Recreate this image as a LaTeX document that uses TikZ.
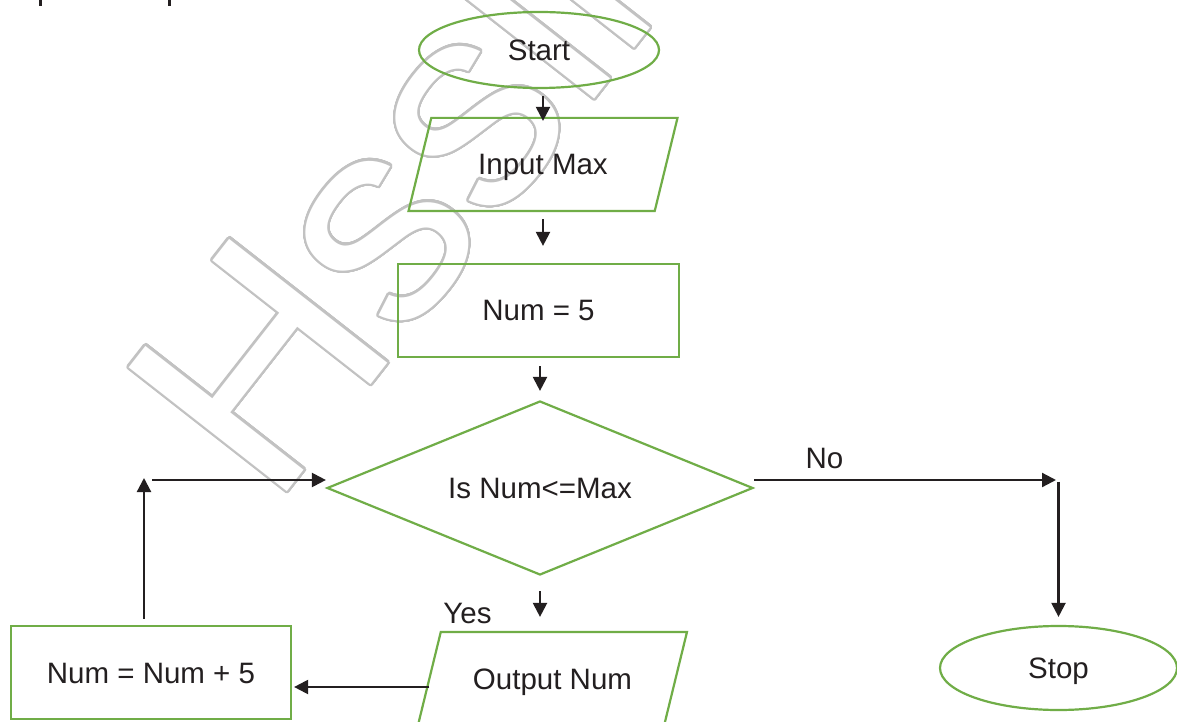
\documentclass[tikz,border=0pt]{standalone}
\usepackage{fontspec}
\setmainfont{Liberation Sans}
\usepackage{contour}
\usetikzlibrary{shapes.geometric, arrows.meta}
\definecolor{flowgreen}{HTML}{70AD47}
\definecolor{ink}{HTML}{231F20}
\definecolor{wmgray}{HTML}{C2C2C2}
\contourlength{2.2pt}
\contournumber{48}
% slanted input/output frame drawn around a rectangular node
\newcommand\ioframe[1]{%
  \draw[frameline] ([xshift=11.4pt]#1.north west) -- ([xshift=11.4pt]#1.north east)
    -- ([xshift=-11.4pt]#1.south east) -- ([xshift=-11.4pt]#1.south west) -- cycle;}
\begin{document}
\begin{tikzpicture}[x=1pt, y=1pt,
  frameline/.style={draw=flowgreen, line width=2.2pt},
  flow/.style={frameline, text=ink, inner sep=0pt,
    font=\fontsize{29.5}{34}\selectfont, text height=21pt, text depth=0pt},
  term/.style={flow, ellipse},
  proc/.style={flow, rectangle},
  io/.style={flow, draw=none, rectangle, minimum width=244pt, minimum height=91pt},
  decision/.style={flow, diamond, shape aspect=2.448},
  arr/.style={draw=ink, line width=2.2pt, -{Triangle[length=14pt, width=14pt]}},
  lbl/.style={text=ink, inner sep=0pt, font=\fontsize{29.5}{34}\selectfont,
    text height=21pt, text depth=0pt},
  wm/.style={text=white, inner sep=0pt, outer sep=0pt,
    font=\fontsize{292}{300}\selectfont}]

\useasboundingbox (0,0) rectangle (1177,721);
\fill[white] (0,0) rectangle (1177,721);

% faint outlined site mark behind the chart
\begin{scope}
  \clip (0,0) rectangle (1177,721);
  \node[wm, anchor=base west, rotate=51.95] (mark) at (272.8,210.9) {\contour{wmgray}{Hsslive}};
\end{scope}

% descenders of the line of text above the chart
\draw[ink, line width=3pt] (40,715) -- (40,722);
\draw[ink, line width=3pt] (169,715) -- (169,722);

% chart boxes
\node[term, minimum width=240pt, minimum height=76pt] (start) at (539,671) {Start};
\node[io] (inp) at (543,556.5) {Input Max};
\node[proc, minimum width=281pt, minimum height=93pt] (n5) at (538.5,410.5) {Num = 5};
\node[decision, minimum width=426pt, minimum height=174pt] (dec) at (540,233) {Is Num<=Max};
\node[io] (out) at (552.5,42.5) {Output Num};
\node[proc, minimum width=280pt, minimum height=93pt] (inc) at (151,48.5) {Num = Num + 5};
\node[term, minimum width=237pt, minimum height=84pt] (stop) at (1058.5,53) {Stop};
\ioframe{inp}
\ioframe{out}

% branch labels
\node[lbl] (no) at (824.5,263) {No};
\node[lbl] (yes) at (467.5,108) {Yes};

% main flow
\draw[arr, shorten <=7pt, shorten >=-3pt] (start.south -| inp.north) -- (inp.north);
\draw[arr, shorten <=8pt, shorten >=17pt] (inp.south) -- (inp.south |- n5.north);
\draw[arr, shorten <=8pt, shorten >=9pt] (n5.south -| dec.north) -- (dec.north);
\draw[arr, shorten <=15pt, shorten >=15pt] (dec.south) -- (dec.south |- out.north);
\draw[arr, shorten >=2pt] ([yshift=-8.5pt]out.west) -- ([yshift=-8.5pt]out.west -| inc.east);

% loop back to the test
\coordinate (lc) at (144,243);
\coordinate (lh) at (152,241);
\draw[arr, shorten <=6pt] (lc |- inc.north) -- (lc);
\draw[arr] (lh) -- (lh -| dec.west);

% exit branch
\coordinate (nc) at (1056,241);
\draw[arr] (dec.east |- nc) -- (nc);
\draw[arr, shorten <=1.5pt, shorten >=8pt] (stop.north |- nc) -- (stop.north);

\end{tikzpicture}
\end{document}
